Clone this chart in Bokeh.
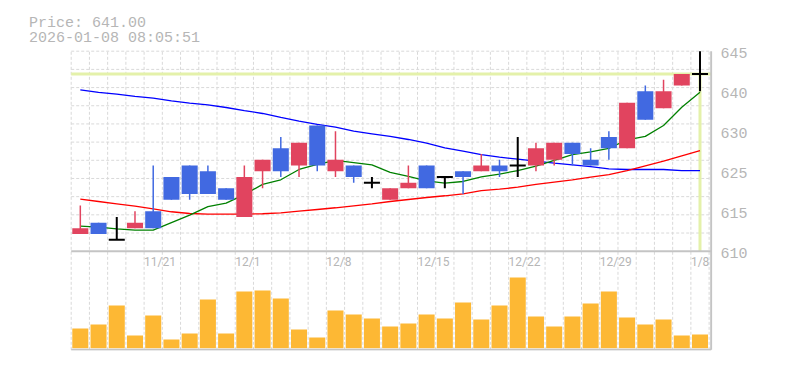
from bokeh.plotting import figure
from bokeh.models import Range1d, LinearAxis, FixedTicker, ColumnDataSource
from bokeh.core.properties import value
from bokeh.embed import file_html
from bokeh.resources import INLINE

# ---- data ----
dates = ["11/17", "11/18", "11/19", "11/20", "11/21", "11/25", "11/26", "11/27", "11/28",
         "12/1", "12/2", "12/3", "12/4", "12/5", "12/8", "12/9", "12/10", "12/11", "12/12",
         "12/15", "12/16", "12/17", "12/18", "12/19", "12/22", "12/23", "12/24", "12/25", "12/26",
         "12/29", "12/30", "1/5", "1/6", "1/7", "1/8"]
opens  = [613, 615, 612, 614, 617, 623, 625, 624, 621, 616, 624, 628, 625, 632, 624, 625, 622, 619,
          621, 625, 623, 624, 624, 625, 625, 625, 626, 629, 626, 630, 628, 638, 635, 639, 641]
highs  = [618, 615, 616, 617, 625, 623, 625, 625, 621, 625, 626, 630, 629, 632, 631, 625, 623, 621,
          625, 625, 623, 624, 627, 626, 630, 629, 629, 629, 628, 631, 636, 639, 640, 641, 645]
lows   = [613, 613, 612, 614, 614, 619, 619, 620, 619, 616, 621, 623, 623, 624, 623, 622, 621, 619,
          621, 621, 621, 620, 624, 623, 623, 624, 625, 625, 625, 626, 628, 633, 635, 639, 638]
closes = [614, 613, 612, 615, 614, 619, 620, 620, 619, 623, 626, 624, 629, 625, 626, 623, 622, 621,
          622, 621, 623, 623, 625, 624, 625, 628, 629, 627, 625, 628, 636, 633, 638, 641, 641]
ma_short = [614.4, 614.2, 613.9, 613.7, 613.7, 615.0, 616.3, 617.8, 618.4, 619.9, 621.7, 622.5,
            624.3, 625.2, 625.9, 625.5, 625.1, 623.8, 623.1, 622.3, 621.9, 622.2, 623.0, 623.5,
            624.1, 624.9, 625.9, 626.9, 627.4, 628.0, 629.5, 630.1, 632.0, 635.2, 637.8]
ma_mid = [619.1, 618.7, 618.3, 617.9, 617.4, 616.9, 616.6, 616.5, 616.5, 616.5, 616.55, 616.7,
          617.0, 617.3, 617.6, 617.95, 618.3, 618.7, 619.05, 619.4, 619.7, 620.05, 620.6, 620.85,
          621.2, 621.7, 622.1, 622.5, 622.95, 623.4, 624.1, 624.95, 625.75, 626.7, 627.6]
ma_long = [638.25, 637.8, 637.5, 637.1, 636.8, 636.3, 635.9, 635.6, 635.15, 634.6, 634.1, 633.4,
           632.75, 632.2, 631.7, 631.0, 630.55, 630.1, 629.55, 628.9, 628.1, 627.5, 626.9, 626.45,
           626.1, 625.75, 625.4, 625.1, 624.8, 624.4, 624.3, 624.3, 624.3, 624.1, 624.1]
volumes = [19700, 23700, 42700, 12700, 32700, 8700, 14700, 48700, 14700, 56700, 57700, 49700,
           18700, 10700, 37700, 33700, 29700, 21700, 24700, 33700, 29700, 45700, 28700, 42700,
           70700, 31700, 21700, 31700, 44700, 56700, 30700, 23700, 28700, 12700, 13700]
price_ticks = [610, 617, 624, 631, 638, 645]
price_tick_labels = ["610", "615", "625", "630", "640", "645"]
date_label_idx = [4, 9, 14, 19, 24, 29, 34]
timestamp = "2026-01-08 08:05:51"

# ---- styling ----
UP, DOWN, EVEN = "#e1445f", "#4169e1", "#000000"
GRID = "#d9d9d9"
BORDER = "#c4c4c4"
TXT = "#b6b6b6"
CROSS = "#e4f1aa"
VOL = "#fdb834"

n = len(closes)
idx = list(range(n))
P_LO, P_HI = price_ticks[0], price_ticks[-1]

# ---- pixel layout of the single frame (frame starts at canvas top-left) ----
W, RIGHT = 778, 66
FRAME_W = W - RIGHT              # 712
FRAME_H = 350
PX_X = 18.226                    # pixels per candle slot
PX_Y = 200 / (P_HI - P_LO)       # pixels per yen
PANEL_L, PANEL_R = 70.7, 710.7   # chart panel edges (px)
PRICE_TOP, PRICE_BOT, VOL_BOT = 50.7, 250.7, 349.3
LABEL_SHIFT_PX = 2               # axis labels sit slightly below their tick

x_start = -0.5 - PANEL_L / PX_X
y_end = P_HI + PRICE_TOP / PX_Y
y_start = y_end - FRAME_H / PX_Y

def xd(px):
    return x_start + px / PX_X

def yd(py):
    return y_end - py / PX_Y

p = figure(width=W, height=FRAME_H + 5,
           x_range=Range1d(x_start, x_start + FRAME_W / PX_X), y_range=Range1d(y_start, y_end),
           output_backend="svg", toolbar_location=None,
           x_axis_location=None, y_axis_location=None,
           min_border_left=0, min_border_right=RIGHT, min_border_top=0, min_border_bottom=5)
p.outline_line_color = None
p.grid.visible = False
vol_zero_px = 347.7
p.extra_y_ranges = {"vol": Range1d(-(FRAME_H - vol_zero_px) * 1000, vol_zero_px * 1000)}

x_left, x_right = xd(PANEL_L), xd(PANEL_R)
y_vol_bot = yd(VOL_BOT)

# grid
vgrid = [k - 0.5 for k in range(n + 1)]
hgrid = [P_LO + (P_HI - P_LO) * j / 11 for j in range(1, 12)]
p.segment(x0=vgrid, y0=[y_vol_bot] * len(vgrid), x1=vgrid, y1=[P_HI] * len(vgrid),
          line_color=GRID, line_dash="3 2", line_width=1)
p.segment(x0=[x_left] * len(hgrid), y0=hgrid, x1=[x_right] * len(hgrid), y1=hgrid,
          line_color=GRID, line_dash="3 2", line_width=1)

# right price axis
label_pos = [t - LABEL_SHIFT_PX / PX_Y for t in price_ticks]
ax = LinearAxis(ticker=FixedTicker(ticks=label_pos),
                major_label_overrides={t: l for t, l in zip(label_pos, price_tick_labels)})
ax.axis_line_color = None
ax.major_tick_line_color = None
ax.minor_tick_line_color = None
ax.major_tick_out = 0
ax.major_tick_in = 0
ax.major_label_standoff = 8
ax.major_label_text_font = "Liberation Mono"
ax.major_label_text_font_size = "15px"
ax.major_label_text_color = TXT
p.add_layout(ax, "right")

# volume bars
p.vbar(x=idx, top=volumes, bottom=0, width=0.88, fill_color=VOL, line_color=None,
       y_range_name="vol")

# crosshair at the last price
last = n - 1
p.segment(x0=[x_left], y0=[closes[-1]], x1=[x_right], y1=[closes[-1]], line_color=CROSS, line_width=3)
p.segment(x0=[last], y0=[closes[-1]], x1=[last], y1=[P_LO], line_color=CROSS, line_width=3)

# moving averages
p.line(idx, ma_long, line_color="#0000ff", line_width=1.3)
p.line(idx, ma_mid, line_color="#ff0000", line_width=1.3)
p.line(idx, ma_short, line_color="#008000", line_width=1.3)

# candles
colors = [UP if c > o else (DOWN if c < o else EVEN) for o, c in zip(opens, closes)]
wick_w = [2 if col == EVEN else 1.5 for col in colors]
src = ColumnDataSource(dict(x=idx, h=highs, l=lows, color=colors, ww=wick_w))
p.segment(x0="x", y0="l", x1="x", y1="h", line_color="color", line_width="ww", source=src)
body_idx = [i for i in idx if opens[i] != closes[i]]
doji_idx = [i for i in idx if opens[i] == closes[i]]
p.vbar(x=[idx[i] for i in body_idx], top=[max(opens[i], closes[i]) for i in body_idx],
       bottom=[min(opens[i], closes[i]) for i in body_idx], width=0.88,
       fill_color=[colors[i] for i in body_idx], line_color=None)
p.segment(x0=[i - 0.44 for i in doji_idx], y0=[closes[i] for i in doji_idx],
          x1=[i + 0.44 for i in doji_idx], y1=[closes[i] for i in doji_idx],
          line_color=EVEN, line_width=2)

# date labels at the top of the volume panel
p.text(x=[i - 0.5 for i in date_label_idx], y=[P_LO] * len(date_label_idx),
       text=[dates[i] for i in date_label_idx], text_align="left", text_baseline="top",
       y_offset=4, text_font=value("Roboto"), text_font_size="12px", text_color=TXT)

# panel borders
p.segment(x0=[x_right, x_left, x_left], y0=[y_vol_bot, P_LO, y_vol_bot],
          x1=[x_right, x_right, x_right], y1=[P_HI, P_LO, y_vol_bot],
          line_color=BORDER, line_width=2)

# header text
p.text(x=[xd(28.5)] * 2, y=[yd(23.3), yd(37.7)], text=[f"Price: {closes[-1]:.2f}", timestamp],
       text_font=value("Liberation Mono"), text_font_size="15px", text_color=TXT,
       text_baseline="alphabetic", text_align="left")

open("out.html", "w").write(file_html(p, INLINE))
